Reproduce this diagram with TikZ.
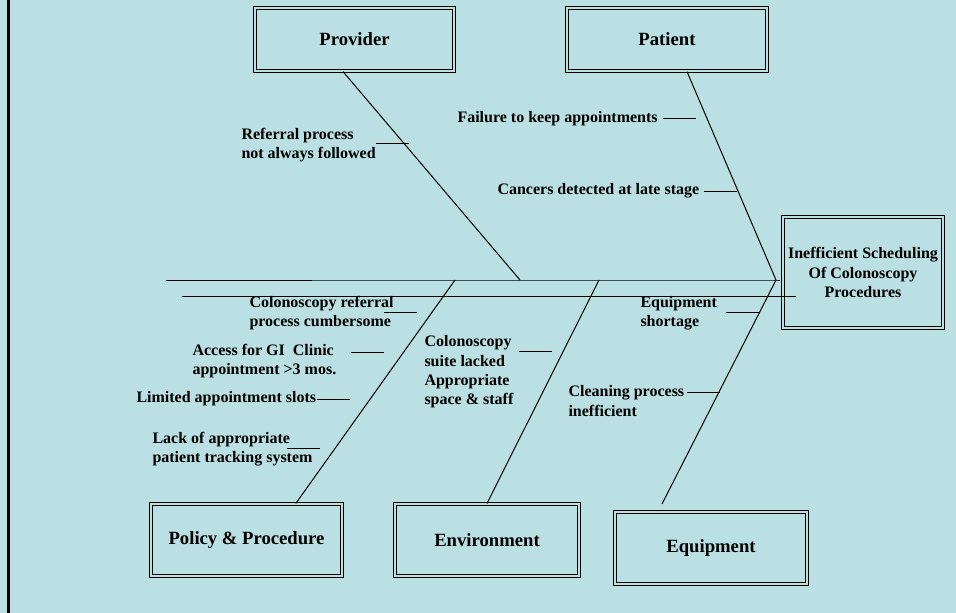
\documentclass[tikz,border=0pt]{standalone}
\usepackage{fontspec}
\setmainfont{Liberation Serif}
\definecolor{bgblue}{RGB}{186,224,227}

\begin{document}
\begin{tikzpicture}[x=0.75pt, y=-0.75pt, line width=0.75pt,
    box/.style={draw, double=bgblue, line width=0.8pt, double distance=1.3pt, inner sep=0pt,
      font=\bfseries\fontsize{14}{17}\selectfont},
    cause/.style={anchor=west, inner sep=0pt, align=left,
      font=\bfseries\fontsize{12}{14.5}\selectfont}]

      \useasboundingbox (0,0) rectangle (956,613);
      \fill[bgblue] (0,0) rectangle (956,613);
      \draw[line width=2.4pt] (8.5,0) -- (8.5,613);

      % category boxes and the effect
      \node[box, minimum width=149.4pt, minimum height=47.4pt] (Prov) at (354.5,39.5) {Provider};
      \node[box, minimum width=150pt, minimum height=47.4pt] (Pat) at (667,39.5) {Patient};
      \node[box, minimum width=120pt, minimum height=83.4pt, align=center,
            font=\bfseries\fontsize{12}{14.5}\selectfont] (Eff) at (863,272.5)
            {Inefficient Scheduling\\Of Colonoscopy\\Procedures};
      \node[box, minimum width=143.4pt, minimum height=54.1pt] (Pol) at (246.5,540) {Policy \& Procedure};
      \node[box, minimum width=138.1pt, minimum height=54.1pt] (Env) at (487,540) {Environment};
      \node[box, minimum width=144.1pt, minimum height=54.1pt] (Eqp) at (711,548) {Equipment};

      % spine
      \coordinate (S1) at (166,280);
      \coordinate (S2) at (182,296);
      \coordinate (J1) at (520,280);
      \coordinate (J2) at (776,280);
      \coordinate (J3) at (455,280);
      \coordinate (J4) at (599,280);
      \coordinate (EqEnd) at (662,504);
      \draw (S1) -- (J3) -- (J1) -- (J4) -- (J2) -- (780,280);
      \draw (S2) -- (796,296);

      % bones
      \draw ([xshift=-8.6pt]Prov.south) -- (J1);
      \draw ([xshift=15pt]Pat.south) -- (J2);
      \draw ([xshift=37pt]Pol.north) -- (J3);
      \draw (Env.north) -- (J4);
      \draw (EqEnd) -- (J2);

      % causes
      \node[cause] (c1) at (241,145) {Referral process\\not always followed};
      \node[cause] (c2) at (457,119) {Failure to keep appointments};
      \node[cause] (c3) at (497,191) {Cancers detected at late stage};
      \node[cause] (c4) at (249,313) {Colonoscopy referral\\process cumbersome};
      \node[cause] (c5) at (192,361) {Access for GI\ \ Clinic\\appointment >3 mos.};
      \node[cause] (c6) at (136,399) {Limited appointment slots};
      \node[cause] (c7) at (152,449) {Lack of appropriate\\patient tracking system};
      \node[cause] (c8) at (424,372) {Colonoscopy\\suite lacked\\Appropriate\\space \& staff};
      \node[cause] (c9) at (640,313) {Equipment\\shortage};
      \node[cause] (c10) at (568,401) {Cleaning process\\inefficient};

      \foreach \n/\dx/\dy in {c1/0/0.75, c2/3.75/0, c3/3/0, c4/-7.5/0.75, c5/10.5/6.75,
          c6/0/0, c7/-19.5/0.75, c8/3.75/15.75, c9/6.75/0.75, c10/1.5/6.75}
        \draw ([xshift=\dx pt, yshift=\dy pt]\n.east) -- ++(33,0);
    \end{tikzpicture}
\end{document}
